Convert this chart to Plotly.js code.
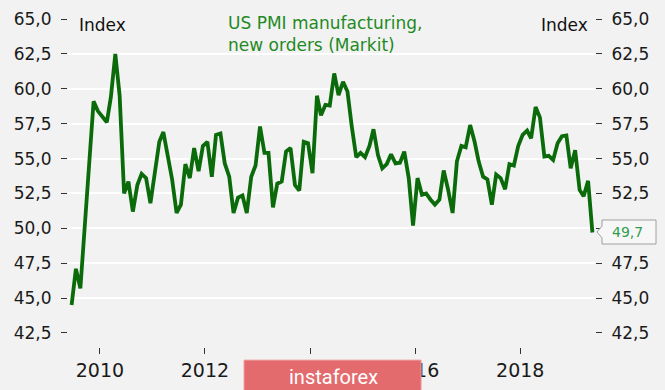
<!DOCTYPE html>
<html>
<head>
<meta charset="utf-8">
<script src="https://cdn.plot.ly/plotly-3.0.1.min.js"></script>
<style>
  html, body { margin: 0; padding: 0; background: #f2f2f2; }
  #chart { width: 665px; height: 390px; }
</style>
</head>
<body>
<div id="chart"></div>
<script>
// Monthly series, first observation June 2009
const startYear = 2009;
const startMonth = 6;
const newOrders = [
  44.5, 47.1, 45.7, 50.5, 55.0, 59.1, 58.4, 58.0, 57.6, 59.4,
  62.5, 59.5, 52.5, 53.35, 51.2, 53.1, 53.9, 53.6, 51.8, 54.0,
  56.2, 56.9, 55.2, 53.5, 51.1, 51.7, 54.6, 53.6, 55.75, 54.1,
  55.9, 56.2, 53.7, 56.7, 56.8, 54.65, 53.7, 51.1, 52.2, 52.35,
  51.1, 53.7, 54.5, 57.3, 55.4, 55.4, 51.5, 53.2, 53.35, 55.5,
  55.75, 53.1, 52.7, 56.2, 56.1, 53.95, 59.5, 58.1, 58.85, 58.8,
  61.1, 59.55, 60.5, 59.8, 57.3, 55.1, 55.4, 55.1, 55.9, 57.1,
  55.25, 54.3, 54.6, 55.3, 54.65, 54.7, 55.5, 53.6, 50.2, 53.6,
  52.4, 52.5, 52.05, 51.7, 52.05, 54.15, 52.75, 51.1, 54.8, 55.9,
  55.8, 57.4, 56.2, 54.8, 53.7, 53.5, 51.7, 53.85, 53.6, 52.8,
  54.6, 54.5, 55.9, 56.7, 57.0, 56.45, 58.7, 57.95, 55.15, 55.2,
  54.9, 56.1, 56.6, 56.65, 54.3, 55.6, 52.75, 52.3, 53.4, 49.7
];
const yTickVals = [42.5, 45, 47.5, 50, 52.5, 55, 57.5, 60, 62.5, 65];
const yTickLeft = ["42,5", "45,0", "47,5", "50,0", "52,5", "55,0", "57,5", "60,0", "62,5", "65,0"];
// right-hand 50,0 sits under the value callout
const yTickRight = ["42,5", "45,0", "47,5", "", "52,5", "55,0", "57,5", "60,0", "62,5", "65,0"];
const titleText = "US PMI manufacturing,<br>new orders (Markit)";
const axisLabel = "Index";
const lastLabel = "49,7";
const watermark = "instaforex";

const dates = newOrders.map((_, i) => {
  const t = startMonth - 1 + i;
  const y = startYear + Math.floor(t / 12);
  const m = (t % 12) + 1;
  return y + "-" + String(m).padStart(2, "0") + "-18";
});

const lineColor = "#0b6b0b";
const tickFont = { family: "DejaVu Sans", size: 17, color: "#1a1a1a" };

const traces = [
  { x: dates, y: newOrders, type: "scatter", mode: "lines",
    line: { color: lineColor, width: 3.8 }, hoverinfo: "x+y", yaxis: "y" },
  { x: dates, y: newOrders, type: "scatter", mode: "lines",
    line: { color: "rgba(0,0,0,0)", width: 0 }, hoverinfo: "skip", yaxis: "y2" }
];

const yCommon = {
  range: [42.5, 65], tickmode: "array", tickvals: yTickVals,
  domain: [0.0427, 1], zeroline: false, showline: false,
  ticks: "outside", ticklen: 6, tickwidth: 1, tickcolor: "#333",
  tickfont: tickFont, ticklabelstandoff: 6
};

const layout = {
  width: 665, height: 390,
  margin: { l: 68, r: 70, t: 19, b: 43 },
  paper_bgcolor: "#f2f2f2", plot_bgcolor: "#f2f2f2",
  separators: ", ",
  showlegend: false,
  xaxis: {
    type: "date", range: ["2009-05-24", "2019-06-05"],
    anchor: "free", position: 0,
    tick0: "2010-01-01", dtick: "M24", tickformat: "%Y",
    ticks: "outside", ticklen: 6, tickwidth: 1, tickcolor: "#333",
    showgrid: false, zeroline: false, showline: false,
    tickfont: { family: "DejaVu Sans", size: 19, color: "#1a1a1a" }
  },
  yaxis: Object.assign({}, yCommon, { side: "left", ticktext: yTickLeft, showgrid: true, gridcolor: "#ffffff", gridwidth: 2 }),
  yaxis2: Object.assign({}, yCommon, { side: "right", ticktext: yTickRight, overlaying: "y", showgrid: false }),
  shapes: [
    { type: "path", xref: "paper", yref: "paper",
      path: "M 1.0038,0.3506 L 1.0133,0.3689 L 1.0133,0.3872 L 1.1158,0.3872 L 1.1158,0.3140 L 1.0133,0.3140 L 1.0133,0.3323 Z",
      fillcolor: "#f7f7f7", line: { color: "#a0a0a0", width: 1 }, layer: "above" },
    { type: "rect", xref: "paper", yref: "paper",
      x0: 0.334, x1: 0.670, y0: -0.135, y1: -0.040,
      fillcolor: "#e36b6d", line: { color: "#f0a0a0", width: 1 }, layer: "above" }
  ],
  annotations: [
    { text: titleText, xref: "paper", yref: "paper", x: 0.2998, y: 0.954,
      xanchor: "left", yanchor: "middle", align: "left", showarrow: false,
      font: { family: "DejaVu Sans", size: 17, color: "#1f8a1f" } },
    { text: axisLabel, xref: "paper", yref: "paper", x: 0.017, y: 0.983,
      xanchor: "left", yanchor: "middle", showarrow: false,
      font: { family: "DejaVu Sans", size: 17, color: "#111" } },
    { text: axisLabel, xref: "paper", yref: "paper", x: 0.9905, y: 0.983,
      xanchor: "right", yanchor: "middle", showarrow: false,
      font: { family: "DejaVu Sans", size: 17, color: "#111" } },
    { text: lastLabel, xref: "paper", yref: "paper", x: 1.0626, y: 0.3506,
      xanchor: "center", yanchor: "middle", showarrow: false,
      font: { family: "DejaVu Sans", size: 14, color: "#2e9e4e" } },
    { text: watermark, xref: "paper", yref: "paper", x: 0.503, y: -0.0915,
      xanchor: "center", yanchor: "middle", showarrow: false,
      font: { family: "Roboto", size: 20, color: "#ffffff" } }
  ]
};

Plotly.newPlot("chart", traces, layout, { displayModeBar: false, staticPlot: true });
</script>
</body>
</html>
